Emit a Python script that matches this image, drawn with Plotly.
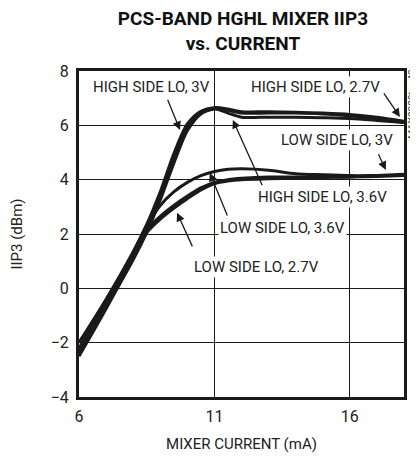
import plotly.graph_objects as go

# mixer current, mA
current = [6, 7, 8, 8.5, 9, 9.5, 10, 10.5, 11, 11.5, 12, 13, 14, 15, 16, 17, 18]

# IIP3, dBm
high_3v0 = [-2.2, -0.55, 1.2, 2.2, 3.4, 4.8, 5.95, 6.5, 6.65, 6.6, 6.5, 6.5, 6.48, 6.45, 6.4, 6.3, 6.15]
high_2v7 = [-2.4, -0.7, 1.05, 2.05, 3.25, 4.6, 5.8, 6.42, 6.6, 6.55, 6.45, 6.45, 6.45, 6.42, 6.35, 6.25, 6.1]
high_3v6 = [-2.0, -0.4, 1.35, 2.35, 3.55, 4.95, 6.05, 6.52, 6.62, 6.45, 6.3, 6.3, 6.3, 6.28, 6.25, 6.18, 6.1]
low_3v6 = [-2.0, -0.45, 1.3, 2.3, 3.05, 3.55, 3.9, 4.15, 4.3, 4.38, 4.4, 4.35, 4.22, 4.18, 4.15, 4.15, 4.15]
low_3v0 = [-2.3, -0.6, 1.2, 2.15, 2.65, 3.05, 3.4, 3.7, 3.9, 4.0, 4.05, 4.1, 4.1, 4.1, 4.1, 4.12, 4.15]
low_2v7 = [-2.5, -0.75, 1.1, 2.05, 2.55, 2.95, 3.3, 3.62, 3.85, 3.95, 4.0, 4.03, 4.05, 4.08, 4.1, 4.15, 4.2]

series = [high_3v0, high_2v7, high_3v6, low_3v6, low_3v0, low_2v7]

FONT = "Roboto, Arial, sans-serif"

fig = go.Figure()
for ys in series:
    fig.add_trace(
        go.Scatter(
            x=current,
            y=ys,
            mode="lines",
            line=dict(color="#1a1a1a", width=3, shape="spline", smoothing=0.8),
            showlegend=False,
            hoverinfo="skip",
        )
    )

# подписи кривых: (текст, x, y, хвост стрелки x, y, остриё x, y) в координатах данных
labels = [
    ("HIGH SIDE LO, 3V", 8.69, 7.41, 9.25, 7.0, 9.73, 5.83),
    ("HIGH SIDE LO, 2.7V", 14.75, 7.41, 17.22, 7.23, 17.85, 6.31),
    ("LOW SIDE LO, 3V", 15.52, 5.46, 17.03, 4.99, 17.33, 4.36),
    ("HIGH SIDE LO, 3.6V", 15.0, 3.37, 12.79, 3.74, 11.68, 6.2),
    ("LOW SIDE LO, 3.6V", 13.53, 2.23, 11.5, 2.63, 10.83, 4.25),
    ("LOW SIDE LO, 2.7V", 12.57, 0.79, 10.21, 1.49, 9.62, 2.78),
]
for text, tx, ty, ax, ay, hx, hy in labels:
    fig.add_annotation(
        x=tx, y=ty, text=text, showarrow=False,
        font=dict(family=FONT, size=15, color="#222"),
        bgcolor="white", borderpad=1,
    )
    fig.add_annotation(
        x=hx, y=hy, ax=ax, ay=ay, axref="x", ayref="y", text="",
        showarrow=True, arrowhead=2, arrowsize=1.3, arrowwidth=1.3,
        arrowcolor="#1a1a1a",
    )

fig.add_annotation(
    x=1.025, y=0.9, xref="paper", yref="paper", text="MAX2320toc40",
    xanchor="center", yanchor="middle",
    showarrow=False, textangle=-90,
    font=dict(family=FONT, size=10, color="#444"),
)

fig.update_xaxes(
    range=[6, 18],
    tick0=6, dtick=5,
    showgrid=True, gridcolor="#1a1a1a", gridwidth=1,
    showline=True, linecolor="#1a1a1a", linewidth=3, mirror=True,
    zeroline=False, ticks="", automargin=False, ticklabelstandoff=3,
    tickfont=dict(family=FONT, size=16, color="#222"),
    title=dict(text="MIXER CURRENT (mA)", font=dict(family=FONT, size=15, color="#222"), standoff=14),
)
fig.update_yaxes(
    range=[-4, 8],
    dtick=2,
    showgrid=True, gridcolor="#1a1a1a", gridwidth=1,
    showline=True, linecolor="#1a1a1a", linewidth=3, mirror=True,
    zeroline=False, ticks="", automargin=False, ticklabelstandoff=4,
    tickfont=dict(family=FONT, size=16, color="#222"),
    title=dict(text="IIP3 (dBm)", font=dict(family=FONT, size=15, color="#222"), standoff=30),
)

# страница добавляет 8 px отступа body слева и сверху
fig.update_layout(
    width=410,
    height=450,
    margin=dict(l=71, r=14, t=63, b=61),
    plot_bgcolor="white",
    paper_bgcolor="white",
    title=dict(
        text="<b>PCS-BAND HGHL MIXER IIP3<br>vs. CURRENT</b>",
        x=0.573, xanchor="center", y=0.962, yanchor="top",
        font=dict(family=FONT, size=19, color="#111"),
    ),
)

fig.write_html("out.html")
